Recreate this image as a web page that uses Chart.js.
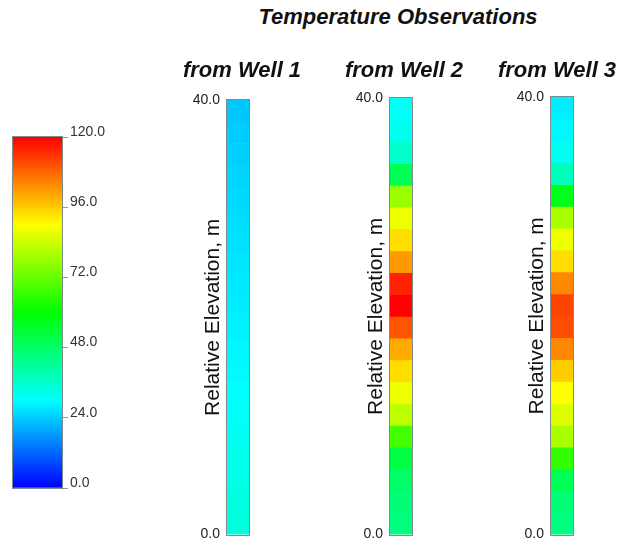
<!DOCTYPE html>
<html>
<head>
<meta charset="utf-8">
<title>Temperature Observations</title>
<script src="https://cdn.jsdelivr.net/npm/chart.js@4.4.1/dist/chart.umd.min.js"></script>
<style>
  body {
    margin: 0;
    background: #fff;
    width: 623px;
    height: 544px;
    overflow: hidden;
    position: relative;
  }
  canvas {
    position: absolute;
  }
  #mainTitle {
    position: absolute;
    left: 198px;
    top: 3px;
    width: 400px;
    text-align: center;
    font: italic bold 22px "Liberation Sans", Arial, sans-serif;
    line-height: 28px;
    color: #111;
  }
</style>
</head>
<body>
<div id="mainTitle">Temperature Observations</div>
<canvas id="cbar" width="110" height="400" style="left:0;top:110px"></canvas>
<canvas id="well1" width="160" height="500" style="left:162px;top:50px"></canvas>
<canvas id="well2" width="160" height="500" style="left:324px;top:50px"></canvas>
<canvas id="well3" width="132" height="500" style="left:491px;top:50px"></canvas>
<script>
// elevation cell edges, top to bottom (m)
const elevEdges = [40, 38, 36, 34, 32, 30, 28, 26, 24, 22, 20, 18, 16, 14, 12, 10, 8, 6, 4, 2, 0];

// temperature per cell, top to bottom
const well1Temps = [23.5, 24, 24.5, 25, 25.5, 26, 26.5, 27, 27.5, 28, 28.5, 29, 29.5, 30, 30.8, 31.5, 32.2, 33, 33.5, 34];
const well2Temps = [31, 32, 36, 50, 78, 88, 94, 102, 116, 120, 110, 100, 94, 88, 82, 68, 52, 48, 46, 45];
const well3Temps = [28, 29, 32, 38, 57, 80, 88, 94, 104, 112, 111, 104, 96, 90, 86, 80, 66, 50, 46, 45];

const wellNames = ["from Well 1", "from Well 2", "from Well 3"];

// colour scale
const cbarTicks = [0, 24, 48, 72, 96, 120];
const cmapValues = [0, 30, 60, 90, 120];
const cmapColors = ["#0000ff", "#00ffff", "#00ff00", "#ffff00", "#ff0000"];

const FONT = "'Liberation Sans', Arial, sans-serif";

function hexToRgb(h) {
  return [parseInt(h.substr(1, 2), 16), parseInt(h.substr(3, 2), 16), parseInt(h.substr(5, 2), 16)];
}

function tempColor(v) {
  let i = 0;
  while (i < cmapValues.length - 2 && v > cmapValues[i + 1]) i++;
  let t = (v - cmapValues[i]) / (cmapValues[i + 1] - cmapValues[i]);
  t = Math.max(0, Math.min(1, t));
  let a = hexToRgb(cmapColors[i]);
  let b = hexToRgb(cmapColors[i + 1]);
  let c = a.map((x, k) => Math.round(x + (b[k] - x) * t));
  return "rgb(" + c.join(",") + ")";
}

// outline round the plot area
const framePlugin = {
  id: "frame",
  afterDatasetsDraw(chart) {
    let a = chart.chartArea;
    let c = chart.ctx;
    c.save();
    c.strokeStyle = "#7f8c8c";
    c.lineWidth = 1;
    c.strokeRect(Math.round(a.left) - 0.5, Math.round(a.top) - 0.5, Math.round(a.width) + 1, Math.round(a.height) + 1);
    c.restore();
  },
};

function makeWell(canvasId, name, temps, lay) {
  let datasets = temps.map((t, i) => ({
    data: [[elevEdges[i + 1], elevEdges[i]]],
    backgroundColor: tempColor(t),
    borderWidth: 0,
    grouped: false,
    barPercentage: 1,
    categoryPercentage: 1,
  }));

  new Chart(document.getElementById(canvasId), {
    type: "bar",
    data: { labels: [name], datasets: datasets },
    plugins: [framePlugin],
    options: {
      responsive: false,
      animation: false,
      layout: { padding: { left: 0, right: 0, top: 0, bottom: lay.bottom } },
      plugins: {
        legend: { display: false },
        tooltip: { enabled: false },
        title: {
          display: true,
          text: name,
          color: "#111",
          font: { family: FONT, size: 22, weight: "bold", style: "italic" },
          padding: { top: 8, bottom: lay.titleGap },
        },
      },
      scales: {
        x: { display: false },
        y: {
          min: elevEdges[elevEdges.length - 1],
          max: elevEdges[0],
          afterFit: (s) => {
            s.width = lay.axisLeft;
          },
          grid: { display: false, drawTicks: false },
          border: { display: false },
          ticks: {
            stepSize: 40,
            padding: 7,
            color: "#222",
            font: { family: FONT, size: 14 },
            callback: (v) => Number(v).toFixed(1),
          },
          title: {
            display: true,
            text: "Relative Elevation, m",
            color: "#111",
            font: { family: FONT, size: 21 },
            padding: { top: lay.axisLeft - 26, bottom: 0 },
          },
        },
        // empty right-hand axis, only keeps the column narrow
        pad: {
          type: "linear",
          position: "right",
          afterFit: (s) => {
            s.width = lay.axisRight;
          },
          grid: { display: false },
          border: { display: false },
          ticks: { display: false },
        },
      },
    },
  });
}

function makeColorbar() {
  let lo = cbarTicks[0];
  let hi = cbarTicks[cbarTicks.length - 1];

  new Chart(document.getElementById("cbar"), {
    type: "bar",
    data: {
      labels: ["Temperature"],
      datasets: [
        {
          data: [[lo, hi]],
          backgroundColor: (ctx) => {
            let chart = ctx.chart;
            if (!chart.chartArea) return cmapColors[0];
            let y = chart.scales.y;
            let g = chart.ctx.createLinearGradient(0, y.getPixelForValue(lo), 0, y.getPixelForValue(hi));
            cmapValues.forEach((v, i) => g.addColorStop((v - lo) / (hi - lo), cmapColors[i]));
            return g;
          },
          borderWidth: 0,
          barPercentage: 1,
          categoryPercentage: 1,
        },
      ],
    },
    plugins: [framePlugin],
    options: {
      responsive: false,
      animation: false,
      layout: { padding: { left: 13, right: 0, top: 27, bottom: 22 } },
      plugins: {
        legend: { display: false },
        tooltip: { enabled: false },
      },
      scales: {
        x: { display: false },
        y: {
          position: "right",
          min: lo,
          max: hi,
          afterFit: (s) => {
            s.width = 48;
          },
          grid: { drawOnChartArea: false, drawTicks: true, tickLength: 6, color: "#999" },
          border: { display: false },
          ticks: {
            stepSize: 24,
            padding: 2,
            labelOffset: -5,
            color: "#333",
            font: { family: FONT, size: 14 },
            callback: (v) => Number(v).toFixed(1),
          },
        },
      },
    },
  });
}

makeColorbar();
makeWell("well1", wellNames[0], well1Temps, { axisLeft: 65, axisRight: 73, bottom: 12, titleGap: 15.6 });
makeWell("well2", wellNames[1], well2Temps, { axisLeft: 66, axisRight: 72, bottom: 13, titleGap: 13.6 });
makeWell("well3", wellNames[2], well3Temps, { axisLeft: 60, axisRight: 50, bottom: 14, titleGap: 12.6 });
</script>
</body>
</html>
